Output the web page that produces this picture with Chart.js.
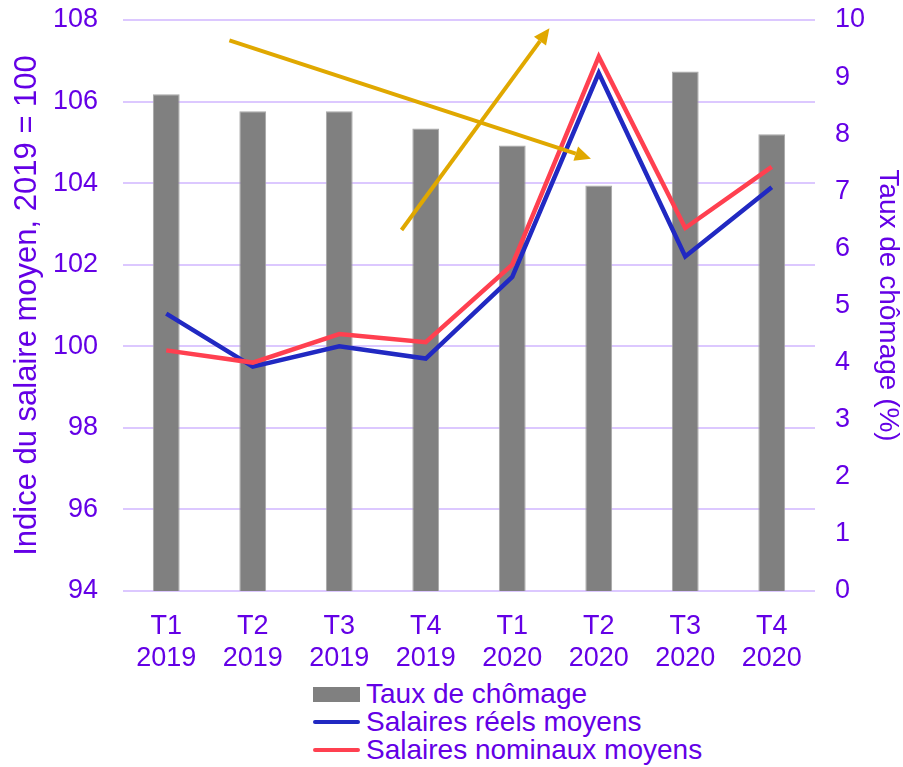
<!DOCTYPE html>
<html lang="fr">
<head>
<meta charset="utf-8">
<script src="https://cdn.jsdelivr.net/npm/chart.js@4"></script>
<style>
  html, body { margin: 0; padding: 0; background: #fff; }
  body { width: 903px; height: 767px; overflow: hidden; font-family: "Liberation Sans", Arial, sans-serif; }
  .chart-box { position: relative; width: 903px; height: 676px; }
  .legend { position: absolute; left: 313px; top: 680px; color: #6400e6; font-size: 28px; line-height: 28px; }
  .legend-item { display: flex; align-items: center; height: 28px; }
  .swatch { width: 47px; margin-right: 6px; }
</style>
</head>
<body>
<div class="chart-box"><canvas id="mainChart"></canvas></div>
<div class="legend" id="legend"></div>
<script>
// Data
const quarters = [['T1', '2019'], ['T2', '2019'], ['T3', '2019'], ['T4', '2019'],
                  ['T1', '2020'], ['T2', '2020'], ['T3', '2020'], ['T4', '2020']];
const unemployment = [8.7, 8.4, 8.4, 8.1, 7.8, 7.1, 9.1, 8.0];
const realWages = [100.8, 99.5, 100.0, 99.7, 101.7, 106.7, 102.2, 103.9];
const nominalWages = [99.9, 99.6, 100.3, 100.1, 102.0, 107.1, 102.9, 104.4];

// Arrows: [x index, left-axis value] start and end
const arrowStarts = [[0.73, 107.5], [2.72, 102.85]];
const arrowEnds = [[4.91, 104.6], [4.43, 107.8]];

const textColor = '#6400e6';
const gridColor = '#dcc8ff';
const arrowColor = '#e0a800';
const fontFamily = '"Liberation Sans", Arial, sans-serif';

// Draw the gold arrows on top of the chart
const arrowPlugin = {
    id: 'arrows',
    afterDatasetsDraw(chart) {
        const ctx = chart.ctx;
        const x = chart.scales.x;
        const y = chart.scales.y;
        ctx.save();
        ctx.strokeStyle = arrowColor;
        ctx.fillStyle = arrowColor;
        ctx.lineWidth = 4;
        arrowStarts.forEach((start, i) => {
            const end = arrowEnds[i];
            const x1 = x.getPixelForValue(start[0]), y1 = y.getPixelForValue(start[1]);
            const x2 = x.getPixelForValue(end[0]), y2 = y.getPixelForValue(end[1]);
            const angle = Math.atan2(y2 - y1, x2 - x1);
            const head = 16;
            const bx = x2 - head * Math.cos(angle), by = y2 - head * Math.sin(angle);
            ctx.beginPath();
            ctx.moveTo(x1, y1);
            ctx.lineTo(bx, by);
            ctx.stroke();
            ctx.beginPath();
            ctx.moveTo(x2, y2);
            ctx.lineTo(bx + 7.5 * Math.sin(angle), by - 7.5 * Math.cos(angle));
            ctx.lineTo(bx - 7.5 * Math.sin(angle), by + 7.5 * Math.cos(angle));
            ctx.closePath();
            ctx.fill();
        });
        ctx.restore();
    }
};

const datasets = [
    {
        type: 'bar',
        label: 'Taux de chômage',
        data: unemployment,
        yAxisID: 'y1',
        backgroundColor: '#808080',
        borderColor: '#a6a6a6',
        borderWidth: { left: 1, right: 1, top: 1, bottom: 0 },
        barPercentage: 0.62,
        categoryPercentage: 0.5,
        order: 3
    },
    {
        type: 'line',
        label: 'Salaires réels moyens',
        data: realWages,
        yAxisID: 'y',
        borderColor: '#2129c2',
        borderWidth: 4.5,
        pointRadius: 0,
        tension: 0,
        order: 2
    },
    {
        type: 'line',
        label: 'Salaires nominaux moyens',
        data: nominalWages,
        yAxisID: 'y',
        borderColor: '#ff4050',
        borderWidth: 4.5,
        pointRadius: 0,
        tension: 0,
        order: 1
    }
];

// Fixed axis sizes so the plot area sits where the original one does
function fitVertical(width) {
    return function(scale) {
        scale.width = width;
        scale.paddingTop = 0;
        scale.paddingBottom = 0;
    };
}

const ctx = document.getElementById('mainChart').getContext('2d');
const chart = new Chart(ctx, {
    data: { labels: quarters, datasets },
    options: {
        responsive: true,
        maintainAspectRatio: false,
        animation: false,
        layout: { padding: { top: 20, left: 0, right: 0, bottom: 0 } },
        plugins: {
            legend: { display: false },
            tooltip: { enabled: false }
        },
        scales: {
            x: {
                grid: { display: false },
                border: { display: false },
                afterFit(scale) { scale.height = 85; },
                ticks: {
                    color: textColor,
                    font: { size: 27, family: fontFamily, lineHeight: 1.17 },
                    maxRotation: 0,
                    autoSkip: false,
                    padding: 12
                }
            },
            y: {
                position: 'left',
                min: 94,
                max: 108,
                afterFit: fitVertical(123),
                ticks: {
                    stepSize: 2,
                    color: textColor,
                    font: { size: 27, family: fontFamily },
                    padding: 25
                },
                grid: { color: gridColor, lineWidth: 2, drawTicks: false },
                border: { display: false },
                title: {
                    display: true,
                    text: 'Indice du salaire moyen, 2019 = 100',
                    color: textColor,
                    font: { size: 31, family: fontFamily, lineHeight: 1.15 },
                    padding: { top: 10, bottom: 0 }
                }
            },
            y1: {
                position: 'right',
                min: 0,
                max: 10,
                afterFit: fitVertical(88),
                ticks: {
                    stepSize: 1,
                    color: textColor,
                    font: { size: 27, family: fontFamily },
                    padding: 20
                },
                grid: { display: false, drawTicks: false },
                border: { display: false },
                title: {
                    display: true,
                    text: 'Taux de chômage (%)',
                    color: textColor,
                    font: { size: 28, family: fontFamily, lineHeight: 1.1 },
                    padding: { top: 0, bottom: 0 }
                }
            }
        }
    },
    plugins: [arrowPlugin]
});

// Vertical legend built from the datasets
const legend = document.getElementById('legend');
datasets.forEach(ds => {
    const item = document.createElement('div');
    item.className = 'legend-item';
    const sw = document.createElement('div');
    sw.className = 'swatch';
    if (ds.type === 'bar') {
        sw.style.height = '15px';
        sw.style.background = ds.backgroundColor;
    } else {
        sw.style.height = '4px';
        sw.style.borderRadius = '2px';
        sw.style.background = ds.borderColor;
    }
    const label = document.createElement('span');
    label.textContent = ds.label;
    item.appendChild(sw);
    item.appendChild(label);
    legend.appendChild(item);
});
</script>
</body>
</html>
